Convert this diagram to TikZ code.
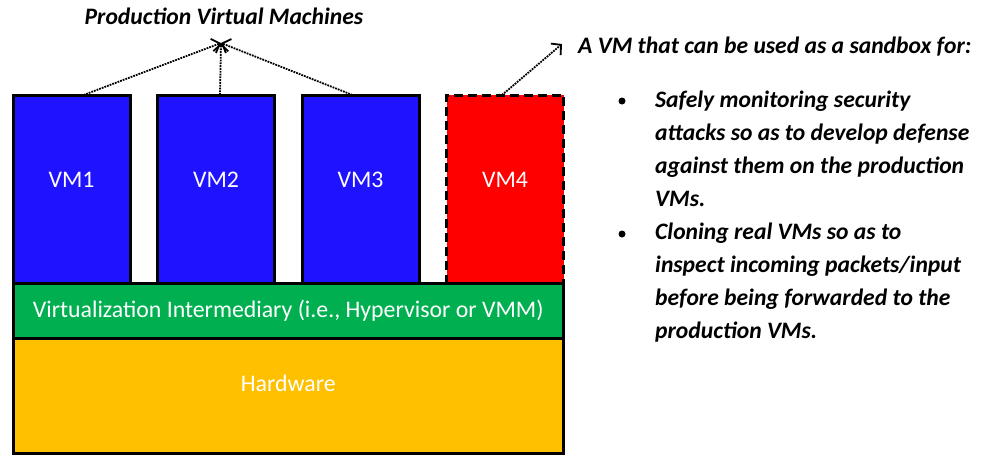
\documentclass[tikz,border=0pt]{standalone}
\usepackage{fontspec}
\setmainfont{Carlito}
\usetikzlibrary{positioning,arrows.meta}

\definecolor{vmblue}{RGB}{31,18,255}
\definecolor{vmred}{RGB}{255,0,0}
\definecolor{vmgreen}{RGB}{0,176,80}
\definecolor{hwyellow}{RGB}{255,192,0}

\newcommand{\boxfont}{\fontsize{23.8}{28}\selectfont}
\newcommand{\notefont}{\fontsize{23.6}{33}\selectfont\bfseries\itshape}

\begin{document}
\begin{tikzpicture}[x=1pt,y=-1pt,node distance=27.5pt,
  vmbox/.style={rectangle,draw,line width=3pt,minimum width=117pt,minimum height=188pt,
    inner sep=0pt,outer sep=0pt,text=white,font=\boxfont,text depth=18pt},
  layerbox/.style={rectangle,draw,line width=3pt,minimum width=550.5pt,
    inner sep=0pt,outer sep=0pt,text=white,font=\boxfont},
  note/.style={inner sep=0pt,font=\notefont,align=left},
  bul/.style={circle,fill,inner sep=0pt,minimum size=7pt},
  pointer/.style={-{Straight Barb[length=7pt,width=15pt]},densely dotted,line width=1.8pt}]
\useasboundingbox (0,0) rectangle (983,459);

\node[vmbox,fill=vmblue,anchor=north west] (vm1) at (13,95) {VM1};
\node[vmbox,fill=vmblue,right=of vm1] (vm2) {VM2};
\node[vmbox,fill=vmblue,right=of vm2] (vm3) {VM3};
\node[vmbox,fill=vmred,dash pattern=on 9pt off 5pt,right=of vm3] (vm4) {VM4};

\node[layerbox,fill=vmgreen,minimum height=55pt,anchor=north west] (vi) at (vm1.south west)
  {Virtualization Intermediary (i.e., Hypervisor or VMM)};
\node[layerbox,fill=hwyellow,minimum height=115pt,text depth=24pt,below=0pt of vi] (hw) {Hardware};

%labels
\node[note,anchor=base] (pvmt) at (224,24) {Production Virtual Machines};
\coordinate (pvm) at (221,43);
\coordinate (sbx) at (562,44);

\draw[pointer] ([xshift=12pt]vm1.north) -- (pvm);
\draw[pointer] ([xshift=4pt]vm2.north) -- (pvm);
\draw[pointer] ([xshift=-8pt]vm3.north) -- (pvm);
\draw[pointer] ([xshift=-3pt]vm4.north) -- (sbx);

\node[note,anchor=base west] (sbt) at (578,53) {A VM that can be used as a sandbox for:};

\node[bul] (b1) at (622,101) {};
\node[note,anchor=north west] (it1) at (655,90.5)
  {Safely monitoring security\\attacks so as to develop defense\\against them on the production\\VMs.};
\node[bul] (b2) at (622,234) {};
\node[note,anchor=north west] (it2) at (655,222.5)
  {Cloning real VMs so as to\\inspect incoming packets/input\\before being forwarded to the\\production VMs.};

\end{tikzpicture}
\end{document}
